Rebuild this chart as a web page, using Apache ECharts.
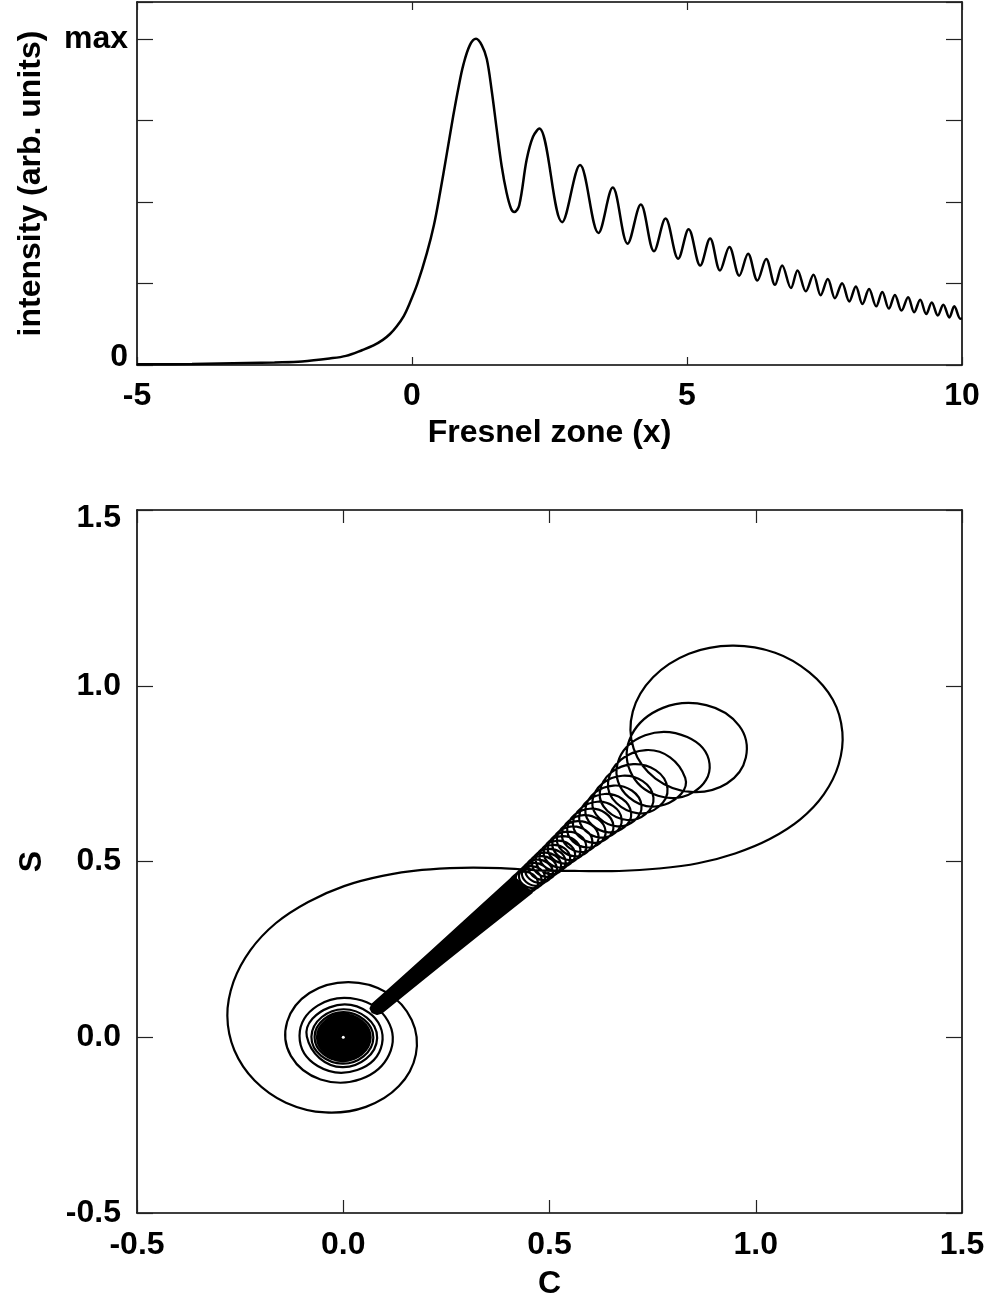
<!DOCTYPE html>
<html><head><meta charset="utf-8">
<script src="https://cdn.jsdelivr.net/npm/echarts@6/dist/echarts.min.js"></script>
<style>html,body{margin:0;padding:0;background:#fff}#c{width:989px;height:1305px}</style>
</head><body><div id="c"></div><script>
// ---------- top panel: intensity vs Fresnel zone ----------
const zoneX = [-5, -4, -3, -2.5, -2, -1.5, -1.2, -0.9, -0.7, -0.53, -0.4, -0.28, -0.15, -0.04, 0.1, 0.27, 0.4, 0.51, 0.63, 0.75, 0.85, 0.93, 1.05, 1.164, 1.27, 1.36, 1.45, 1.54, 1.63, 1.72, 1.8, 1.86, 1.95, 2.085, 2.2, 2.315, 2.73, 3.055, 3.39, 3.65, 3.92, 4.16, 4.4, 4.61, 4.84, 5.03, 5.24, 5.42, 5.6, 5.77, 5.95, 6.11, 6.28, 6.44, 6.6, 6.73, 6.89, 7.01, 7.16, 7.30, 7.43, 7.56, 7.69, 7.82, 7.95, 8.07, 8.19, 8.31, 8.44, 8.55, 8.67, 8.78, 8.90, 9.02, 9.13, 9.24, 9.35, 9.45, 9.56, 9.66, 9.77, 9.86, 9.97, 10.0];
const intensity = [0.002, 0.003, 0.006, 0.008, 0.011, 0.02, 0.028, 0.046, 0.06, 0.077, 0.095, 0.118, 0.15, 0.19, 0.25, 0.343, 0.43, 0.528, 0.645, 0.764, 0.855, 0.918, 0.98, 1.0, 0.98, 0.938, 0.84, 0.723, 0.61, 0.528, 0.48, 0.469, 0.49, 0.63, 0.70, 0.725, 0.438, 0.613, 0.405, 0.544, 0.372, 0.492, 0.349, 0.449, 0.326, 0.416, 0.305, 0.388, 0.29, 0.362, 0.274, 0.341, 0.259, 0.325, 0.246, 0.305, 0.236, 0.29, 0.226, 0.277, 0.214, 0.264, 0.205, 0.251, 0.195, 0.241, 0.187, 0.233, 0.18, 0.224, 0.173, 0.215, 0.167, 0.208, 0.162, 0.2, 0.156, 0.192, 0.152, 0.185, 0.146, 0.18, 0.142, 0.143];
const intensityTickLabels = {0: '0', 1: 'max'};

// ---------- bottom panel: C vs S curve ----------
// inner turns of the lower spiral (quarter-turn points)
const lowerTurnC = [0.0004, 0.0510, -0.0004, -0.0523, 0.0005, 0.0538, -0.0005, -0.0554, 0.0006, 0.0572, -0.0006, -0.0591, 0.0007, 0.0613, -0.0008, -0.0637, 0.0009, 0.0664, -0.0010, -0.0695, 0.0011, 0.0730, -0.0013, -0.0772, 0.0016, 0.0822, -0.0019, -0.0883];
const lowerTurnS = [0.0503, -0.0004, -0.0516, 0.0005, 0.0531, -0.0005, -0.0546, 0.0005, 0.0563, -0.0006, -0.0581, 0.0007, 0.0602, -0.0007, -0.0624, 0.0008, 0.0650, -0.0009, -0.0679, 0.0010, 0.0712, -0.0012, -0.0750, 0.0014, 0.0796, -0.0017, -0.0851, 0.0022];
// central part of the curve
const mainC = [-0.033, 0.062, 0.094, 0.034, -0.062, -0.106, -0.062, 0.033, 0.108, 0.111, 0.043, -0.055, -0.127, -0.136, -0.082, 0.012, 0.106, 0.166, 0.176, 0.135, 0.055, -0.043, -0.139, -0.215, -0.264, -0.281, -0.266, -0.225, -0.163, -0.085, 0.002, 0.095, 0.191, 0.286, 0.382, 0.475, 0.572, 0.669, 0.765, 0.860, 0.950, 1.034, 1.108, 1.165, 1.201, 1.210, 1.187, 1.130, 1.047, 0.943, 0.838, 0.751, 0.702, 0.704, 0.757, 0.843, 0.930, 0.976, 0.960, 0.880, 0.775, 0.699, 0.696, 0.763, 0.850, 0.888, 0.834, 0.732, 0.665, 0.692, 0.780];
const mainS = [0.085, 0.070, -0.019, -0.093, -0.082, 0.004, 0.090, 0.108, 0.047, -0.050, -0.119, -0.120, -0.053, 0.044, 0.126, 0.157, 0.127, 0.049, -0.049, -0.139, -0.198, -0.214, -0.186, -0.123, -0.037, 0.061, 0.158, 0.248, 0.325, 0.385, 0.430, 0.459, 0.476, 0.482, 0.481, 0.475, 0.473, 0.473, 0.480, 0.495, 0.523, 0.564, 0.620, 0.691, 0.776, 0.868, 0.960, 1.038, 1.094, 1.114, 1.091, 1.024, 0.927, 0.821, 0.736, 0.698, 0.722, 0.796, 0.886, 0.945, 0.937, 0.860, 0.756, 0.687, 0.698, 0.778, 0.854, 0.859, 0.779, 0.683, 0.662];
// loops drifting down the diagonal (quarter-turn points)
const upperTurnC = [0.829, 0.734, 0.642, 0.715, 0.786, 0.703, 0.622, 0.688, 0.752, 0.677, 0.604, 0.664, 0.723, 0.655, 0.587, 0.643, 0.698, 0.634, 0.572, 0.624, 0.675, 0.616, 0.557, 0.606, 0.655, 0.598, 0.543, 0.590, 0.636, 0.583, 0.530, 0.575, 0.619, 0.568, 0.518, 0.561, 0.604, 0.555, 0.507, 0.548, 0.589, 0.542, 0.496, 0.536, 0.575, 0.530, 0.486, 0.524, 0.562, 0.519, 0.476, 0.513, 0.550, 0.508, 0.467, 0.503, 0.539, 0.498, 0.458, 0.493, 0.528, 0.488, 0.449, 0.484, 0.518, 0.479, 0.441, 0.475, 0.508, 0.470, 0.433, 0.466, 0.498, 0.462, 0.426, 0.458, 0.489, 0.454, 0.418, 0.450, 0.481, 0.446, 0.411, 0.442, 0.472, 0.438, 0.404, 0.435];
const upperTurnS = [0.738, 0.817, 0.726, 0.637, 0.708, 0.777, 0.697, 0.618, 0.682, 0.744, 0.671, 0.600, 0.659, 0.716, 0.649, 0.583, 0.638, 0.692, 0.629, 0.568, 0.620, 0.670, 0.611, 0.553, 0.602, 0.650, 0.594, 0.540, 0.586, 0.632, 0.579, 0.527, 0.572, 0.615, 0.565, 0.515, 0.558, 0.600, 0.552, 0.504, 0.545, 0.585, 0.539, 0.494, 0.533, 0.572, 0.527, 0.483, 0.522, 0.559, 0.516, 0.474, 0.511, 0.547, 0.506, 0.464, 0.501, 0.536, 0.496, 0.456, 0.491, 0.525, 0.486, 0.447, 0.481, 0.515, 0.477, 0.439, 0.472, 0.505, 0.468, 0.431, 0.464, 0.496, 0.460, 0.424, 0.456, 0.487, 0.452, 0.417, 0.448, 0.479, 0.444, 0.410, 0.440, 0.471, 0.436, 0.403];
// outline of the solid band of tightly packed loops
const wedgeC = [0.412, 0.293, 0.208, 0.134, 0.0706, 0.066, 0.0708, 0.082, 0.0936, 0.160, 0.238, 0.329, 0.457];
const wedgeS = [0.457, 0.329, 0.238, 0.160, 0.0936, 0.082, 0.0708, 0.066, 0.0706, 0.134, 0.208, 0.293, 0.412];
// centre of the lower spiral (solid core)
const coreC = [0.0];
const coreS = [0.0];

const zip = (a, b) => a.map((v, i) => [v, b[i]]);
const curveC = lowerTurnC.concat(mainC, upperTurnC);
const curveS = lowerTurnS.concat(mainS, upperTurnS);

const FONT = '"Liberation Sans", Arial, sans-serif';
const txt = {fontFamily: FONT, fontWeight: 'bold', fontSize: 32, color: '#000'};
const axLine = {color: '#000', width: 1.6};
const tickLine = {color: '#222', width: 1.2};
// some end labels of the vertical axes sit slightly inside the frame
const richY = {
  lo: Object.assign({padding: [0, 0, 16, 0]}, txt),
  hi: Object.assign({padding: [16, 0, 0, 0]}, txt),
  mid: Object.assign({}, txt)
};

function ax(extra) {
  return Object.assign({
    type: 'value',
    axisLine: {show: true, onZero: false, lineStyle: axLine},
    splitLine: {show: false},
    axisTick: {show: true, inside: true, length: 8, lineStyle: tickLine},
    axisLabel: {show: false}
  }, extra);
}

// smooth path through the projected points (cubic segments, tangent from neighbours)
function smoothPath(P) {
  const n = P.length, k = 0.37;
  const tan = i => {
    const a = P[Math.max(i - 1, 0)], b = P[Math.min(i + 1, n - 1)];
    const dx = b[0] - a[0], dy = b[1] - a[1];
    const L = Math.hypot(dx, dy) || 1;
    return [dx / L, dy / L];
  };
  let d = 'M' + P[0][0].toFixed(2) + ' ' + P[0][1].toFixed(2);
  for (let i = 0; i < n - 1; i++) {
    const p0 = P[i], p1 = P[i + 1];
    const len = Math.hypot(p1[0] - p0[0], p1[1] - p0[1]) * k;
    const t0 = tan(i), t1 = tan(i + 1);
    d += 'C' + (p0[0] + t0[0] * len).toFixed(2) + ' ' + (p0[1] + t0[1] * len).toFixed(2) + ' ' +
         (p1[0] - t1[0] * len).toFixed(2) + ' ' + (p1[1] - t1[1] * len).toFixed(2) + ' ' +
         p1[0].toFixed(2) + ' ' + p1[1].toFixed(2);
  }
  return d;
}

const option = {
  animation: false,
  backgroundColor: '#fff',
  grid: [
    {left: 137, right: 27, top: 2, height: 363},
    {left: 137, right: 27, top: 510, height: 716}
  ],
  xAxis: [
    ax({gridIndex: 0, position: 'bottom', min: -5, max: 10, interval: 5,
        axisLabel: Object.assign({show: true, margin: 15}, txt),
        name: 'Fresnel zone (x)', nameLocation: 'middle', nameGap: 52, nameTextStyle: txt}),
    ax({gridIndex: 0, position: 'top', min: -5, max: 10, interval: 5}),
    ax({gridIndex: 1, position: 'bottom', min: -0.5, max: 1.5, interval: 0.5,
        axisTick: {show: true, inside: true, length: 13, lineStyle: tickLine},
        axisLabel: Object.assign({show: true, margin: 16, formatter: v => v.toFixed(1)}, txt),
        name: 'C', nameLocation: 'middle', nameGap: 55, nameTextStyle: txt}),
    ax({gridIndex: 1, position: 'top', min: -0.5, max: 1.5, interval: 0.5,
        axisTick: {show: true, inside: true, length: 13, lineStyle: tickLine}})
  ],
  yAxis: [
    ax({gridIndex: 0, position: 'left', min: 0, max: 1.113, interval: 0.25,
        axisTick: {show: true, inside: true, length: 16, lineStyle: tickLine},
        axisLabel: Object.assign({show: true, margin: 9, rich: richY,
          formatter: v => {
            const s = intensityTickLabels[v];
            if (s === undefined) return '';
            return v === 0 ? '{lo|' + s + '}' : '{mid|' + s + '}';
          }}, txt),
        name: 'intensity (arb. units)', nameLocation: 'middle', nameGap: 90, nameTextStyle: txt}),
    ax({gridIndex: 0, position: 'right', min: 0, max: 1.113, interval: 0.25,
        axisTick: {show: true, inside: true, length: 16, lineStyle: tickLine}}),
    ax({gridIndex: 1, position: 'left', min: -0.5, max: 1.5, interval: 0.5,
        axisTick: {show: true, inside: true, length: 16, lineStyle: tickLine},
        axisLabel: Object.assign({show: true, margin: 16, rich: richY,
          formatter: v => {
            const s = v.toFixed(1);
            if (v >= 1.5) return '{hi|' + s + '}';
            return '{mid|' + s + '}';
          }}, txt),
        name: 'S', nameLocation: 'middle', nameGap: 89, nameTextStyle: txt}),
    ax({gridIndex: 1, position: 'right', min: -0.5, max: 1.5, interval: 0.5,
        axisTick: {show: true, inside: true, length: 16, lineStyle: tickLine}})
  ],
  series: [
    {type: 'line', xAxisIndex: 0, yAxisIndex: 0, data: zip(zoneX, intensity),
     smooth: 0.35, symbol: 'none', lineStyle: {color: '#000', width: 2.5}, silent: true},
    {type: 'scatter', xAxisIndex: 2, yAxisIndex: 2, data: zip(coreC, coreS),
     symbol: 'circle', symbolSize: [50, 44], itemStyle: {color: '#000', opacity: 1}, silent: true},
    {type: 'custom', xAxisIndex: 2, yAxisIndex: 2, data: [[curveC[0], curveS[0]]],
     encode: {x: 0, y: 1}, silent: true, clip: true,
     renderItem: function (params, api) {
       const pts = curveC.map((c, i) => api.coord([c, curveS[i]]));
       return {type: 'path', shape: {pathData: smoothPath(pts)},
               style: {fill: null, stroke: '#000', lineWidth: 2.2, lineJoin: 'round'}};
     }},
    {type: 'custom', xAxisIndex: 2, yAxisIndex: 2, data: [[wedgeC[0], wedgeS[0]]],
     encode: {x: 0, y: 1}, silent: true,
     renderItem: function (params, api) {
       const pts = wedgeC.map((c, i) => api.coord([c, wedgeS[i]]));
       return {type: 'polygon', shape: {points: pts},
               style: {fill: '#000', stroke: '#000', lineWidth: 2, lineJoin: 'round'}};
     }},
    {type: 'scatter', xAxisIndex: 2, yAxisIndex: 2, data: zip(coreC, coreS),
     symbol: 'circle', symbolSize: 3, itemStyle: {color: '#fff', opacity: 1}, silent: true, z: 5}
  ]
};

const chart = echarts.init(document.getElementById('c'), null, {renderer: 'canvas'});
chart.setOption(option);
</script></body></html>
